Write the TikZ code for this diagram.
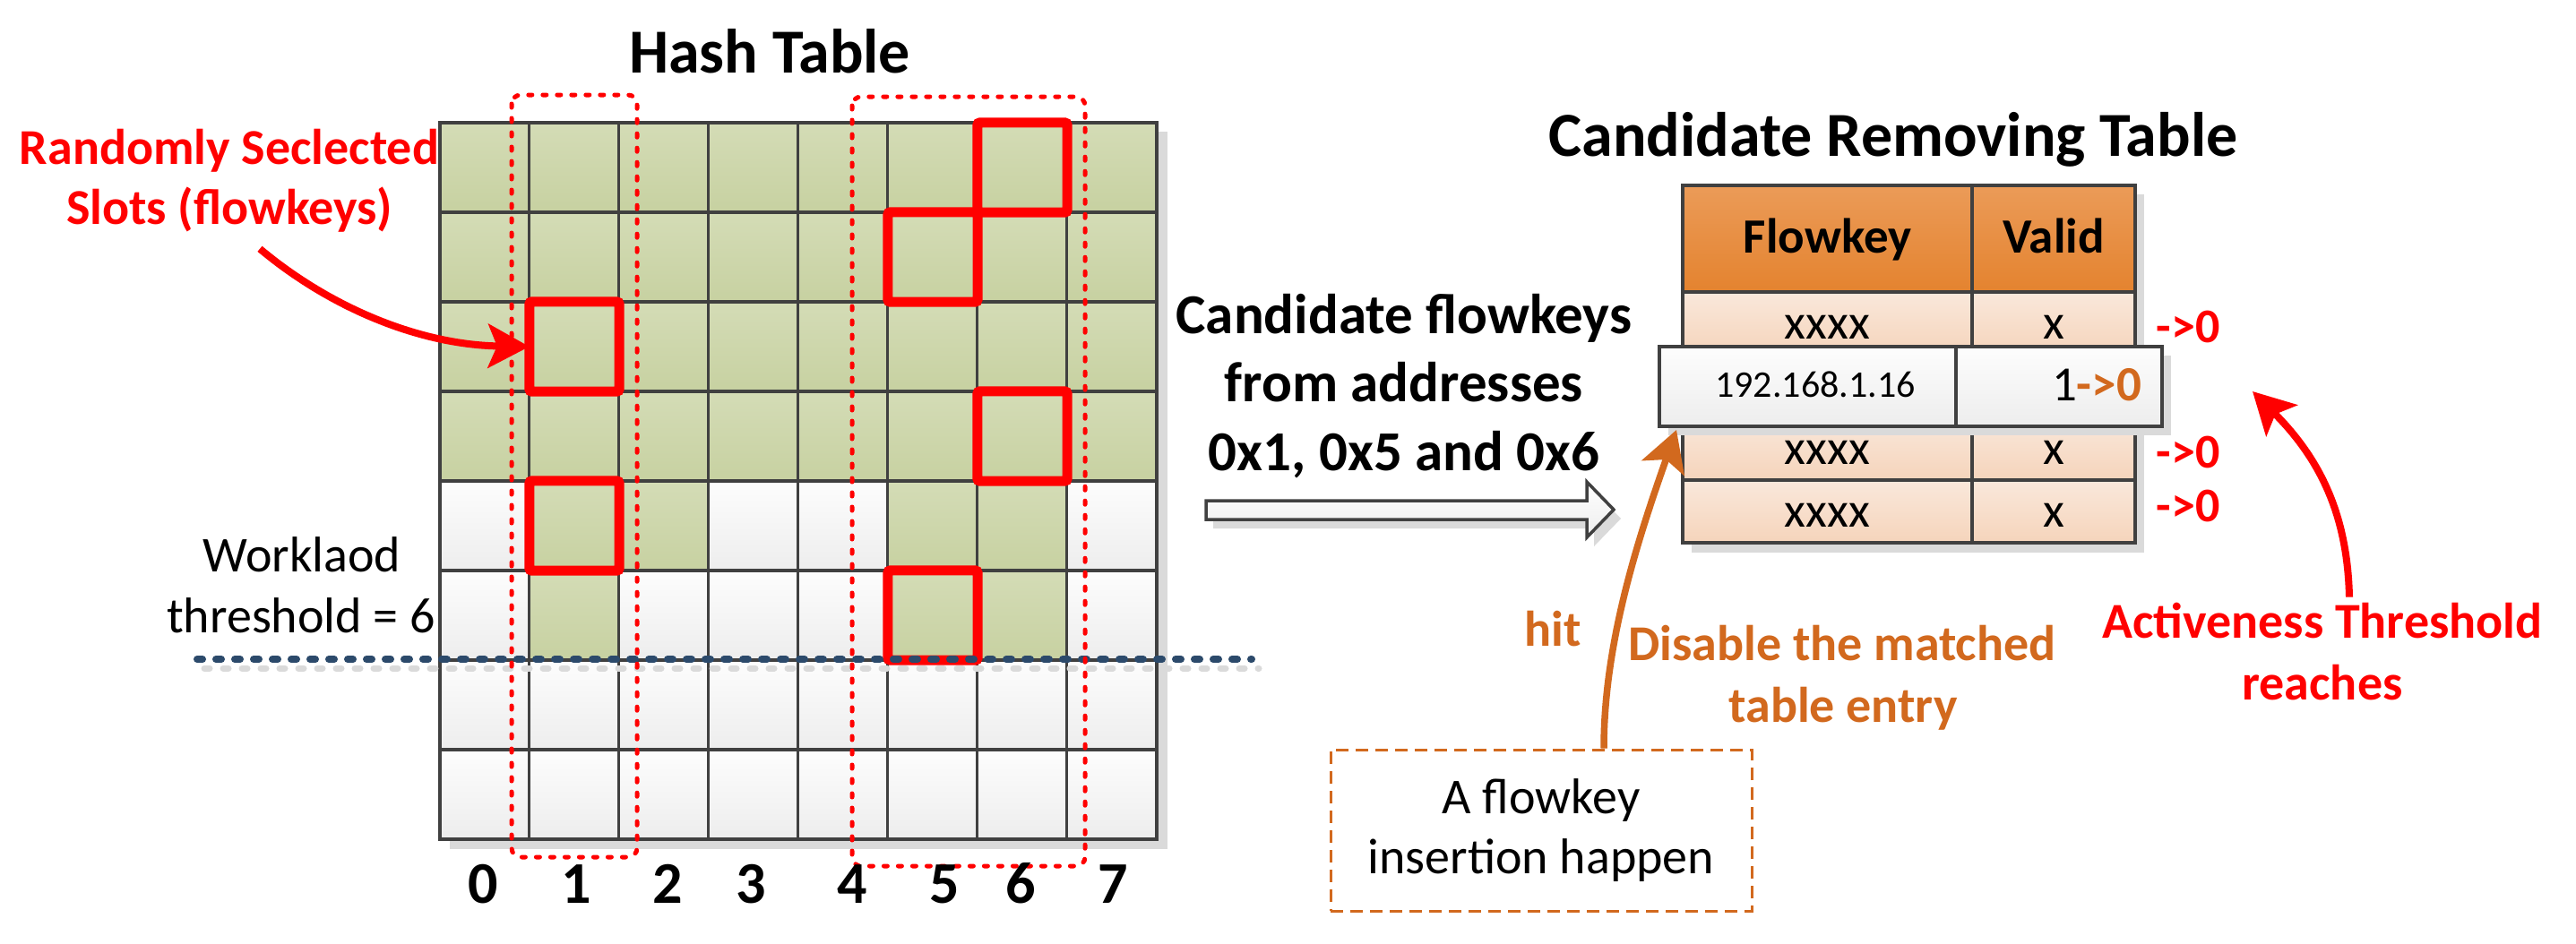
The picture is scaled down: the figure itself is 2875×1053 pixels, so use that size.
\documentclass[tikz,border=0pt]{standalone}
\usepackage{fontspec}
\setmainfont{Carlito}
\usetikzlibrary{arrows.meta,calc}
\definecolor{gridline}{HTML}{404040}
\definecolor{greentop}{HTML}{D4DCB6}
\definecolor{greenbot}{HTML}{C7D1A1}
\definecolor{whitetop}{HTML}{FDFDFD}
\definecolor{whitebot}{HTML}{EDEDED}
\definecolor{peachtop}{HTML}{FAE8DB}
\definecolor{peachbot}{HTML}{F5D4BB}
\definecolor{headtop}{HTML}{EB9B58}
\definecolor{headbot}{HTML}{E4832F}
\definecolor{orangetxt}{HTML}{D2691E}
\definecolor{navydot}{HTML}{2C4A6B}
\definecolor{shadowgray}{HTML}{DADADA}
\newcommand{\myfs}[2]{\fontsize{#1}{#2}\selectfont}
\begin{document}
\begin{tikzpicture}[x=1pt,y=-1pt,
  txt/.style={anchor=base, inner sep=0pt, outer sep=0pt},
  cellG/.style={minimum width=100pt, minimum height=100pt, inner sep=0pt, top color=greentop, bottom color=greenbot, draw=none},
  cellW/.style={minimum width=100pt, minimum height=100pt, inner sep=0pt, top color=whitetop, bottom color=whitebot, draw=none},
  hline/.style={draw=gridline, line width=4pt},
  vline/.style={draw=gridline, line width=3pt},
  redbox/.style={draw=red, line width=11pt, rounded corners=3pt},
  reddash/.style={draw=red, line width=5pt, line cap=round, dash pattern=on 4pt off 12pt, rounded corners=10pt},
  wline/.style={draw=navydot, line width=8pt, line cap=round, dash pattern=on 6pt off 15pt},
  wshadow/.style={draw=shadowgray, line width=7pt, line cap=round, dash pattern=on 6pt off 15pt},
  redbold/.style={txt, text=red, font=\myfs{56}{67}\bfseries},
  orgbold/.style={txt, text=orangetxt, font=\myfs{56}{67}\bfseries},
  tcell/.style={draw=gridline, line width=4pt, top color=peachtop, bottom color=peachbot, inner sep=0pt, text height=40pt, text depth=6pt, font=\myfs{55}{66}},
  thead/.style={draw=gridline, line width=4pt, top color=headtop, bottom color=headbot, inner sep=0pt, text height=40pt, text depth=9pt, font=\myfs{55}{66}\bfseries},
  hcell/.style={draw=gridline, line width=4pt, top color=whitetop, bottom color=whitebot, inner sep=0pt},
  insbox/.style={draw=orangetxt, line width=3pt, dash pattern=on 14pt off 8pt, inner sep=0pt, align=center, font=\myfs{56}{67}},
  redarrow/.style={draw=red, line width=8pt, -{Stealth[length=46pt,width=49pt,inset=10pt]}},
  orgarrow/.style={draw=orangetxt, line width=7.5pt, -{Stealth[length=45pt,width=50pt,inset=10pt]}},
  blockarrow/.style={draw=gridline, line width=3.5pt, top color=white, bottom color=whitebot, line join=miter}
]
\useasboundingbox (0,0) rectangle (2875,1053);
\fill[white] (0,0) rectangle (2875,1053);

% ---------- Hash table ----------
\node[txt, font=\myfs{70}{82}\bfseries] (ht) at (859,81) {Hash Table};
\fill[shadowgray] (502,147) rectangle (1303,948);
\foreach \r in {0,...,7}{
  \foreach \c in {0,...,7}{
    \pgfmathtruncatemacro{\g}{(\r<4) || (\r==4 && (\c==1 || \c==2 || \c==5 || \c==6)) || (\r==5 && (\c==1 || \c==5 || \c==6))}
    \ifnum\g=1
      \node[cellG] (c-\r-\c) at ({541+100*\c},{187+100*\r}) {};
    \else
      \node[cellW] (c-\r-\c) at ({541+100*\c},{187+100*\r}) {};
    \fi
  }
}
\foreach \c in {1,...,7}{\draw[vline] (c-0-\c.north west) -- (c-7-\c.south west);}
\foreach \r in {1,...,7}{\draw[hline] (c-\r-0.north west) -- (c-\r-7.north east);}
\draw[hline] (c-0-0.north west) rectangle (c-7-7.south east);

\foreach \r/\c in {0/6,1/5,2/1,3/6,4/1,5/5}{
  \draw[redbox] (c-\r-\c.north west) rectangle (c-\r-\c.south east);
}

% workload threshold line
\coordinate (wl-a) at (220,736);
\coordinate (wl-b) at (1397,736);
\draw[wshadow] ($(wl-a)+(8,10)$) -- ($(wl-b)+(8,10)$);
\draw[wline] (wl-a) -- (wl-b);

% dashed selections
\draw[reddash] (571,106) rectangle (711,957);
\draw[reddash] (951,108) rectangle (1211,967);

% column labels
\foreach \i/\x in {0/539,1/643,2/745,3/838,4/951,5/1054,6/1139,7/1242}{
  \node[txt, font=\myfs{66}{78}\bfseries] (lab\i) at (\x,1008) {\i};
}

% left labels
\node[redbold] (sel1) at (256,183) {Randomly Seclected};
\node[redbold] (sel2) at (256,250) {Slots (flowkeys)};
\node[txt, font=\myfs{56}{67}] (wl1) at (337,638) {Worklaod};
\node[txt, font=\myfs{56}{67}] (wl2) at (336,706) {threshold = 6};

\draw[redarrow] ($(sel2.south)+(34,19)$) .. controls +(80,67) and +(-121,-2) .. (c-2-1.west);

% ---------- middle ----------
\node[txt, font=\myfs{63}{76}\bfseries] (cf1) at (1567,372) {Candidate flowkeys};
\node[txt, font=\myfs{63}{76}\bfseries] (cf2) at (1567,448) {from addresses};
\node[txt, font=\myfs{63}{76}\bfseries] (cf3) at (1567,525) {0x1, 0x5 and 0x6};
\fill[shadowgray, shift={(8,10)}] (1346,559) -- (1771,559) -- (1771,538) -- (1801,569) -- (1771,600) -- (1771,580) -- (1346,580) -- cycle;
\draw[blockarrow] (1346,559) -- (1771,559) -- (1771,538) -- (1801,569) -- (1771,600) -- (1771,580) -- (1346,580) -- cycle;

% ---------- candidate removing table ----------
\node[txt, font=\myfs{70}{82}\bfseries] (crt) at (2113,174) {Candidate Removing Table};
\fill[shadowgray] (1888,217) rectangle (2393,617);
\node[thead, minimum width=323pt, minimum height=119pt] (th-key) at (2039.5,266.5) {Flowkey};
\node[thead, minimum width=182pt, minimum height=119pt] (th-val) at (2292,266.5) {Valid};
\foreach \i/\y in {1/361,3/501,4/571}{
  \node[tcell, minimum width=323pt, minimum height=70pt] (tk-\i) at (2039.5,\y) {xxxx};
  \node[tcell, minimum width=182pt, minimum height=70pt] (tv-\i) at (2292,\y) {x};
}
\fill[shadowgray] (1862,397) rectangle (2423,486);
\node[hcell, minimum width=331pt, minimum height=89pt] (hl-key) at (2017.5,431.5) {};
\node[hcell, minimum width=230pt, minimum height=89pt] (hl-val) at (2298,431.5) {};
\node[txt, font=\myfs{42}{50}] (ip) at (2026,443) {192.168.1.16};
\node[txt, anchor=base east, font=\myfs{55}{66}] (onezero) at (2390,447) {1\textcolor{orangetxt}{\bfseries ->0}};

\node[redbold, font=\myfs{54}{65}\bfseries] (z1) at (2442,382) {->0};
\node[redbold, font=\myfs{54}{65}\bfseries] (z3) at (2442,522) {->0};
\node[redbold, font=\myfs{54}{65}\bfseries] (z4) at (2442,582) {->0};

% ---------- annotations ----------
\node[insbox, minimum width=470pt, minimum height=180pt] (ins) at (1720,927) {A flowkey\\insertion happen};
\node[orgbold] (hit) at (1733,721) {hit};
\node[orgbold] (dis1) at (2056,737) {Disable the matched};
\node[orgbold] (dis2) at (2057,806) {table entry};
\draw[orgarrow] ($(ins.north)+(70,0)$) .. controls +(0,-117) and +(-43,122) .. ($(hl-key.south west)+(21,2)$);

\node[redbold] (act1) at (2592,712) {Activeness Threshold};
\node[redbold] (act2) at (2592,781) {reaches};
\draw[redarrow] ($(act1.north)+(30,-6)$) .. controls +(-2,-88) and +(78,78) .. ($(hl-val.east)+(99,5.5)$);
\end{tikzpicture}
\end{document}
